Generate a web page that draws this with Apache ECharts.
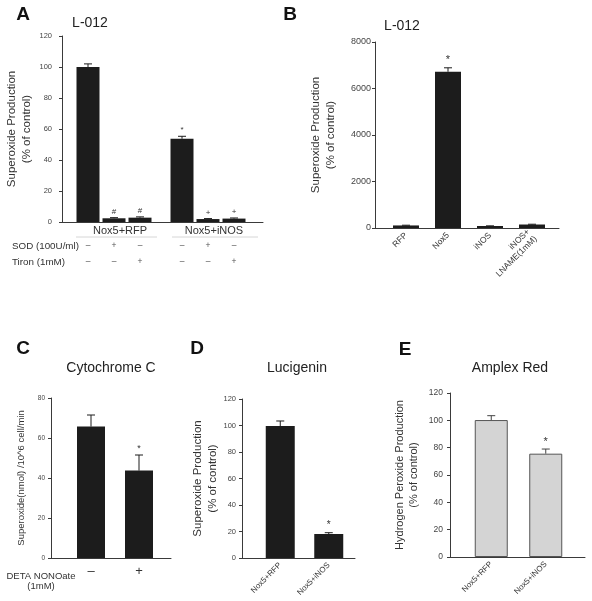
<!DOCTYPE html>
<html><head><meta charset="utf-8">
<script src="https://cdn.jsdelivr.net/npm/echarts@6/dist/echarts.min.js"></script>
<style>html,body{margin:0;padding:0;background:#fff}#c{width:592px;height:601px}</style>
</head><body><div id="c"></div>
<script>
// ---------- DATA ----------
// Panel A (L-012), groups x treatments
const aGroups = ['Nox5+RFP', 'Nox5+iNOS'];
const aSeriesNames = ['Control', 'SOD', 'Tiron'];
const aControl = [100, 53.7];
const aSOD = [2.4, 1.9];
const aTiron = [2.8, 2.2];
const aControlErr = [2.0, 1.6];
const aSODErr = [0.4, 0.3];
const aTironErr = [0.5, 0.4];
const aControlMarks = ['', '*'];
const aSODMarks = ['#', '+'];
const aTironMarks = ['#', '+'];
const aSODSigns = ['–', '+', '–'];   // per series: Control, SOD, Tiron
const aTironSigns = ['–', '–', '+'];
const aRowLabels = ['SOD (100U/ml)', 'Tiron (1mM)'];

// Panel B (L-012)
const bCats = ['RFP', 'Nox5', 'iNOS', 'iNOS+\nLNAME(1mM)'];
const bValues = [110, 6720, 85, 150];
const bErr = [10, 170, 8, 12];
const bMarks = ['', '*', '', ''];

// Panel C (Cytochrome C)
const cCats = ['–', '+'];
const cValues = [65.7, 43.7];
const cErr = [5.8, 7.8];
const cMarks = ['', '*'];

// Panel D (Lucigenin)
const dCats = ['Nox5+RFP', 'Nox5+iNOS'];
const dValues = [99.6, 18.1];
const dErr = [3.8, 1.0];
const dMarks = ['', '*'];

// Panel E (Amplex Red)
const eCats = ['Nox5+RFP', 'Nox5+iNOS'];
const eValues = [100.2, 75.6];
const eErr = [3.2, 3.4];
const eMarks = ['', '*'];

// ---------- STYLE HELPERS ----------
const FONT = "'Liberation Sans', Arial, Helvetica, sans-serif";
const INK = '#1c1c1c';
const AX = '#3a3a3a';

function errSeries(xi, vals, errs, marks, offset, color, markSize) {
  return {
    type: 'custom', xAxisIndex: xi, yAxisIndex: xi, z: 5, silent: true,
    data: vals.map((v, i) => [i, v, errs[i]]),
    encode: { x: 0, y: 1 },
    renderItem(params, api) {
      const i = params.dataIndex;
      const c = api.value(0), v = api.value(1), e = api.value(2);
      const top = api.coord([c, v + e]);
      const base = api.coord([c, v]);
      const x = top[0] + offset;
      const ch = [
        { type: 'line', shape: { x1: x, y1: base[1], x2: x, y2: top[1] }, style: { stroke: color, lineWidth: 1 } },
        { type: 'line', shape: { x1: x - 4, y1: top[1], x2: x + 4, y2: top[1] }, style: { stroke: color, lineWidth: 1 } }
      ];
      if (marks[i]) ch.push({ type: 'text', x: x, y: top[1] - 2,
        style: { text: marks[i], fill: '#333', fontSize: markSize, fontFamily: FONT, align: 'center', verticalAlign: 'bottom' } });
      return { type: 'group', children: ch };
    }
  };
}

function yAx(idx, max, interval, offset, name, nameGap, labelSize, nameSize, margin) {
  return {
    gridIndex: idx, type: 'value', min: 0, max: max, interval: interval, offset: offset,
    axisLine: { show: true, lineStyle: { color: AX, width: 1 } },
    axisTick: { show: true, length: 3, lineStyle: { color: AX } },
    axisLabel: { fontSize: labelSize, color: '#444', fontFamily: FONT, margin: margin, formatter: v => String(v) },
    splitLine: { show: false },
    name: name, nameLocation: 'middle', nameRotate: 90, nameGap: nameGap,
    nameTextStyle: { fontSize: nameSize, color: '#333', fontFamily: FONT, lineHeight: nameSize + 3 }
  };
}
function xCat(idx, cats, label) {
  return {
    gridIndex: idx, type: 'category', data: cats,
    axisLine: { show: false }, axisTick: { show: false },
    axisLabel: Object.assign({ color: '#333', fontFamily: FONT, interval: 0 }, label)
  };
}
function lineX(idx) {
  return { gridIndex: idx, type: 'value', min: 0, max: 1,
    axisLine: { show: true, lineStyle: { color: AX, width: 1 } },
    axisTick: { show: false }, axisLabel: { show: false }, splitLine: { show: false } };
}
function hiddenY(idx) {
  return { gridIndex: idx, type: 'value', min: 0, max: 1, show: false };
}

const grids = [
  { left: 67, top: 36, width: 188, height: 186 },
  { left: 385, top: 42, width: 168, height: 186 },
  { left: 67, top: 398, width: 96, height: 160 },
  { left: 256, top: 399, width: 97, height: 159 },
  { left: 464, top: 393, width: 109, height: 164 },
  // axis-line grids
  { left: 62, top: 36, width: 201, height: 186 },
  { left: 375, top: 42, width: 184, height: 186 },
  { left: 51, top: 398, width: 120, height: 160 },
  { left: 242, top: 399, width: 113, height: 159 },
  { left: 450, top: 393, width: 135, height: 164 }
];

const xAxes = [
  xCat(0, aGroups, { fontSize: 11, margin: 3, padding: [0, 0, 0, 12] }),
  xCat(1, bCats, { fontSize: 8.5, rotate: 45, margin: 6, lineHeight: 10 }),
  xCat(2, cCats, { fontSize: 13, margin: 7 }),
  xCat(3, dCats, { fontSize: 8, rotate: 45, margin: 6 }),
  xCat(4, eCats, { fontSize: 8, rotate: 45, margin: 6 }),
  lineX(5), lineX(6), lineX(7), lineX(8), lineX(9)
];
const yAxes = [
  yAx(0, 120, 20, 5, 'Superoxide Production\n(% of control)', 28, 7.5, 11.5, 10),
  yAx(1, 8000, 2000, 10, 'Superoxide Production\n(% of control)', 37, 9, 11.5, 4),
  yAx(2, 80, 20, 16, 'Superoxide(nmol) /10^6 cell/min', 23, 6.5, 9.5, 6),
  yAx(3, 120, 20, 14, 'Superoxide Production\n(% of control)', 21, 7.5, 11.5, 6),
  yAx(4, 120, 20, 14, 'Hydrogen Peroxide Production\n(% of control)', 29, 8.5, 11, 7),
  hiddenY(5), hiddenY(6), hiddenY(7), hiddenY(8), hiddenY(9)
];

const aVals = [aControl, aSOD, aTiron];
const aErrs = [aControlErr, aSODErr, aTironErr];
const aMarks = [aControlMarks, aSODMarks, aTironMarks];
const aBarW = 23, aGap = 3;

const series = [];
aVals.forEach((vals, s) => {
  series.push({
    type: 'bar', name: aSeriesNames[s], xAxisIndex: 0, yAxisIndex: 0, data: vals,
    barWidth: aBarW, barGap: (aGap / aBarW * 100) + '%',
    itemStyle: { color: INK }, silent: true,
    label: { show: true, position: 'bottom', distance: 16, formatter: aSODSigns[s] + '\n' + aTironSigns[s],
      fontSize: 8.5, lineHeight: 16, color: '#555', fontFamily: FONT }
  });
});
aVals.forEach((vals, s) => {
  series.push(errSeries(0, vals, aErrs[s], aMarks[s], (s - 1) * (aBarW + aGap), INK, 8));
});
series.push({ type: 'bar', xAxisIndex: 1, yAxisIndex: 1, data: bValues, barWidth: 26, itemStyle: { color: INK }, silent: true });
series.push(errSeries(1, bValues, bErr, bMarks, 0, INK, 11));
series.push({ type: 'bar', xAxisIndex: 2, yAxisIndex: 2, data: cValues, barWidth: 28, itemStyle: { color: INK }, silent: true });
series.push(errSeries(2, cValues, cErr, cMarks, 0, INK, 9));
series.push({ type: 'bar', xAxisIndex: 3, yAxisIndex: 3, data: dValues, barWidth: 29, itemStyle: { color: INK }, silent: true });
series.push(errSeries(3, dValues, dErr, dMarks, 0, INK, 10));
series.push({ type: 'bar', xAxisIndex: 4, yAxisIndex: 4, data: eValues, barWidth: 33,
  itemStyle: { color: '#d4d4d4', borderColor: '#555', borderWidth: 1 }, silent: true });
series.push(errSeries(4, eValues, eErr, eMarks, 0, '#444', 11));

function txt(text, x, y, size, opts) {
  return { type: 'text', x: x, y: y, silent: true,
    style: Object.assign({ text: text, fontSize: size, fontFamily: FONT, fill: '#222', align: 'center', verticalAlign: 'middle' }, opts || {}) };
}
const graphic = [
  txt('A', 23, 15, 19, { fontWeight: 'bold', fill: '#111' }),
  txt('B', 290, 15, 19, { fontWeight: 'bold', fill: '#111' }),
  txt('C', 23, 349, 19, { fontWeight: 'bold', fill: '#111' }),
  txt('D', 197, 349, 19, { fontWeight: 'bold', fill: '#111' }),
  txt('E', 405, 350, 19, { fontWeight: 'bold', fill: '#111' }),
  txt('L-012', 90, 23, 14),
  txt('L-012', 402, 26, 14),
  txt('Cytochrome C', 111, 368, 14),
  txt('Lucigenin', 297, 368, 14),
  txt('Amplex Red', 510, 368, 14),
  txt(aRowLabels[0], 12, 246, 9.8, { align: 'left', fill: '#333' }),
  txt(aRowLabels[1], 12, 262, 9.8, { align: 'left', fill: '#333' }),
  txt('DETA NONOate\n(1mM)', 41, 581, 9.5, { lineHeight: 10, fill: '#333' }),
  { type: 'line', silent: true, shape: { x1: 76, y1: 237, x2: 157, y2: 237 }, style: { stroke: '#ccc', lineWidth: 0.8 } },
  { type: 'line', silent: true, shape: { x1: 172, y1: 237, x2: 258, y2: 237 }, style: { stroke: '#ccc', lineWidth: 0.8 } }
];

const chart = echarts.init(document.getElementById('c'), null, { renderer: 'canvas' });
chart.setOption({
  animation: false,
  backgroundColor: '#fff',
  textStyle: { fontFamily: FONT },
  grid: grids, xAxis: xAxes, yAxis: yAxes, series: series, graphic: graphic
});
</script></body></html>
